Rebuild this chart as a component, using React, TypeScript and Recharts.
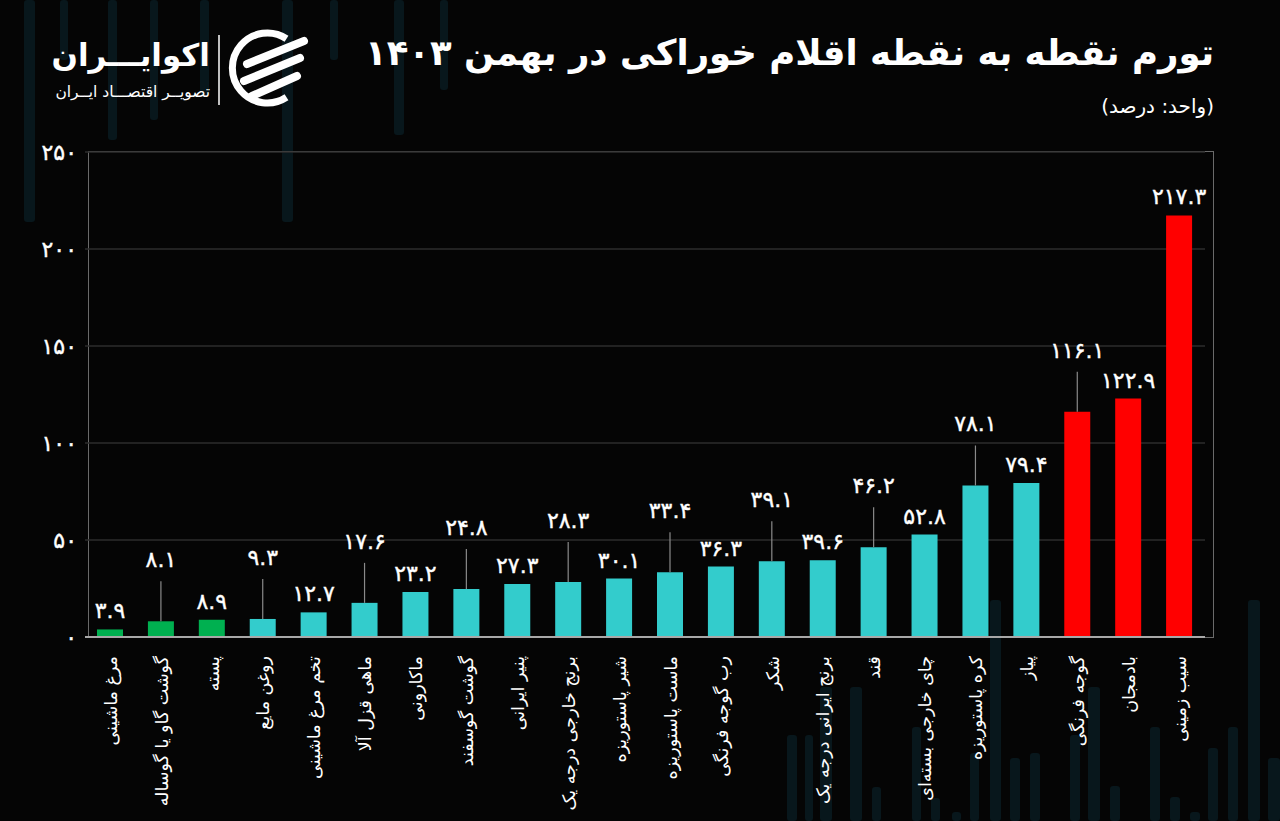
import React from "react";
import { BarChart, Bar, XAxis, YAxis, CartesianGrid, Cell, LabelList } from "recharts";

const categories = [
  "مرغ ماشینی",
  "گوشت گاو یا گوساله",
  "پسته",
  "روغن مایع",
  "تخم مرغ ماشینی",
  "ماهی قزل آلا",
  "ماکارونی",
  "گوشت گوسفند",
  "پنیر ایرانی",
  "برنج خارجی درجه یک",
  "شیر پاستوریزه",
  "ماست پاستوریزه",
  "رب گوجه فرنگی",
  "شکر",
  "برنج ایرانی درجه یک",
  "قند",
  "چای خارجی بسته‌ای",
  "کره پاستوریزه",
  "پیاز",
  "گوجه فرنگی",
  "بادمجان",
  "سیب زمینی",
];

const values = [3.9, 8.1, 8.9, 9.3, 12.7, 17.6, 23.2, 24.8, 27.3, 28.3, 30.1, 33.4, 36.3, 39.1, 39.6, 46.2, 52.8, 78.1, 79.4, 116.1, 122.9, 217.3];

const groups = ["low", "low", "low", "mid", "mid", "mid", "mid", "mid", "mid", "mid", "mid", "mid", "mid", "mid", "mid", "mid", "mid", "mid", "mid", "high", "high", "high"];

const yTicks = [0, 50, 100, 150, 200, 250];

const title = "تورم نقطه به نقطه اقلام خوراکی در بهمن ۱۴۰۳";
const unitText = "(واحد: درصد)";
const brandName = "اکوایـــران";
const brandSub = "تصویــر اقتصـــاد ایــران";

const groupColors: Record<string, string> = { low: "#00B050", mid: "#33CCCC", high: "#FF0000" };

const data = categories.map((name, i) => ({ name, value: values[i], group: groups[i] }));

const FONT = "'DejaVu Sans', sans-serif";
const faDigits = "۰۱۲۳۴۵۶۷۸۹";
const toFa = (v: number | string) => String(v).replace(/[0-9]/g, (d) => faDigits[Number(d)]);

// decorative faint background stripes [x, top, bottom, width]
const decoBars: number[][] = [
  [24, 0, 222, 11], [60, 0, 60, 8], [108, 0, 140, 9], [150, 0, 120, 8], [200, 0, 95, 9],
  [282, 0, 222, 11], [330, 0, 60, 8], [394, 0, 135, 10], [440, 0, 90, 8],
  [787, 735, 821, 10], [805, 735, 821, 8], [820, 687, 821, 12], [850, 687, 821, 12], [872, 787, 821, 9],
  [912, 727, 821, 9], [931, 798, 821, 9], [952, 812, 821, 9], [970, 753, 821, 9], [990, 600, 821, 11],
  [1010, 758, 821, 10], [1030, 753, 821, 10], [1070, 735, 821, 10], [1088, 687, 821, 12], [1110, 786, 821, 10],
  [1150, 727, 821, 10], [1170, 797, 821, 10], [1190, 812, 821, 10], [1208, 748, 821, 10], [1228, 727, 821, 10],
  [1248, 600, 821, 12], [1268, 758, 821, 12],
];

const CategoryTick = (props: any) => {
  const { x, y, payload } = props;
  return (
    <text
      transform={`translate(${x},${y + 11}) rotate(-90)`}
      textAnchor="end"
      dy="0.36em"
      fill="#ffffff"
      fontSize={17.5}
      fontFamily={FONT}
    >
      {payload.value}
    </text>
  );
};

const ValueLabel = (props: any) => {
  const { x, y, width, value, index } = props;
  const cx = x + width / 2;
  const lead = index % 2 === 1 && index < values.length - 1;
  const base = lead ? y - 54 : y - 11;
  return (
    <g>
      {lead && <line x1={cx} x2={cx} y1={base + 14} y2={y} stroke="#8a8a8a" strokeWidth={1.2} />}
      <text x={cx} y={base} textAnchor="middle" fill="#ffffff" fontSize={22} fontFamily={FONT} stroke="#ffffff" strokeWidth={0.4}>
        {toFa(value)}
      </text>
    </g>
  );
};

export default function App() {
  return (
    <div
      style={{
        position: "absolute",
        left: 0,
        top: 0,
        width: 1280,
        height: 821,
        background: "#050505",
        overflow: "hidden",
        fontFamily: FONT,
      }}
    >
      <svg width={1280} height={821} style={{ position: "absolute", left: 0, top: 0 }}>
        {decoBars.map((b, i) => (
          <rect key={i} x={b[0]} y={b[1]} width={b[3]} height={b[2] - b[1]} fill="#08171c" rx={3} />
        ))}
        {/* logo icon */}
        <path d="M 286.5 38.7 A 35 35 0 1 0 286.5 97.3" fill="none" stroke="#ffffff" strokeWidth={7} />
        <line x1={247} y1={64} x2={304} y2={41} stroke="#ffffff" strokeWidth={8} strokeLinecap="round" />
        <line x1={244} y1={81} x2={300} y2={58} stroke="#ffffff" strokeWidth={8} strokeLinecap="round" />
        <line x1={252} y1={96} x2={297} y2={76} stroke="#ffffff" strokeWidth={8} strokeLinecap="round" />
        <line x1={219} y1={35} x2={219} y2={105} stroke="#ffffff" strokeWidth={1.5} />
      </svg>

      <div
        style={{
          position: "absolute",
          left: 40,
          top: 33,
          width: 170,
          direction: "rtl",
          textAlign: "right",
          color: "#fff",
          fontWeight: "bold",
          fontSize: 31,
          lineHeight: "44px",
          whiteSpace: "nowrap",
        }}
      >
        {brandName}
      </div>
      <div
        style={{
          position: "absolute",
          left: 40,
          top: 81,
          width: 170,
          direction: "rtl",
          textAlign: "right",
          color: "#fff",
          fontSize: 15.5,
          lineHeight: "22px",
          whiteSpace: "nowrap",
        }}
      >
        {brandSub}
      </div>

      <div
        style={{
          position: "absolute",
          right: 66,
          top: 28,
          direction: "rtl",
          color: "#fff",
          fontWeight: "bold",
          fontSize: 35.5,
          lineHeight: "50px",
          whiteSpace: "nowrap",
        }}
      >
        {title}
      </div>
      <div
        style={{
          position: "absolute",
          right: 66,
          top: 92,
          direction: "rtl",
          color: "#fff",
          fontSize: 20,
          lineHeight: "28px",
          whiteSpace: "nowrap",
        }}
      >
        {unitText}
      </div>

      <div
        style={{
          position: "absolute",
          left: 88,
          top: 151,
          width: 1126,
          height: 487,
          border: "1px solid #6a6a6a",
          boxSizing: "border-box",
        }}
      />

      <div style={{ position: "absolute", left: 0, top: 0 }}>
        <BarChart
          width={1280}
          height={821}
          data={data}
          margin={{ top: 152, right: 75, bottom: 0, left: 25 }}
          barSize={26}
        >
          <CartesianGrid horizontal vertical={false} stroke="#2c2c2c" strokeWidth={1.5} />
          <YAxis
            type="number"
            domain={[0, 250]}
            ticks={yTicks}
            width={60}
            axisLine={false}
            tickLine={false}
            tickFormatter={(v: number) => toFa(v)}
            tick={{ fill: "#ffffff", fontSize: 22, fontFamily: FONT, stroke: "#ffffff", strokeWidth: 0.4 }}
          />
          <XAxis
            dataKey="name"
            interval={0}
            tickLine={false}
            axisLine={{ stroke: "#a8a8a8", strokeWidth: 2 }}
            tick={<CategoryTick />}
            height={184}
          />
          <Bar dataKey="value" isAnimationActive={false}>
            {data.map((d, i) => (
              <Cell key={i} fill={groupColors[d.group]} />
            ))}
            <LabelList dataKey="value" content={<ValueLabel />} />
          </Bar>
        </BarChart>
      </div>
    </div>
  );
}
